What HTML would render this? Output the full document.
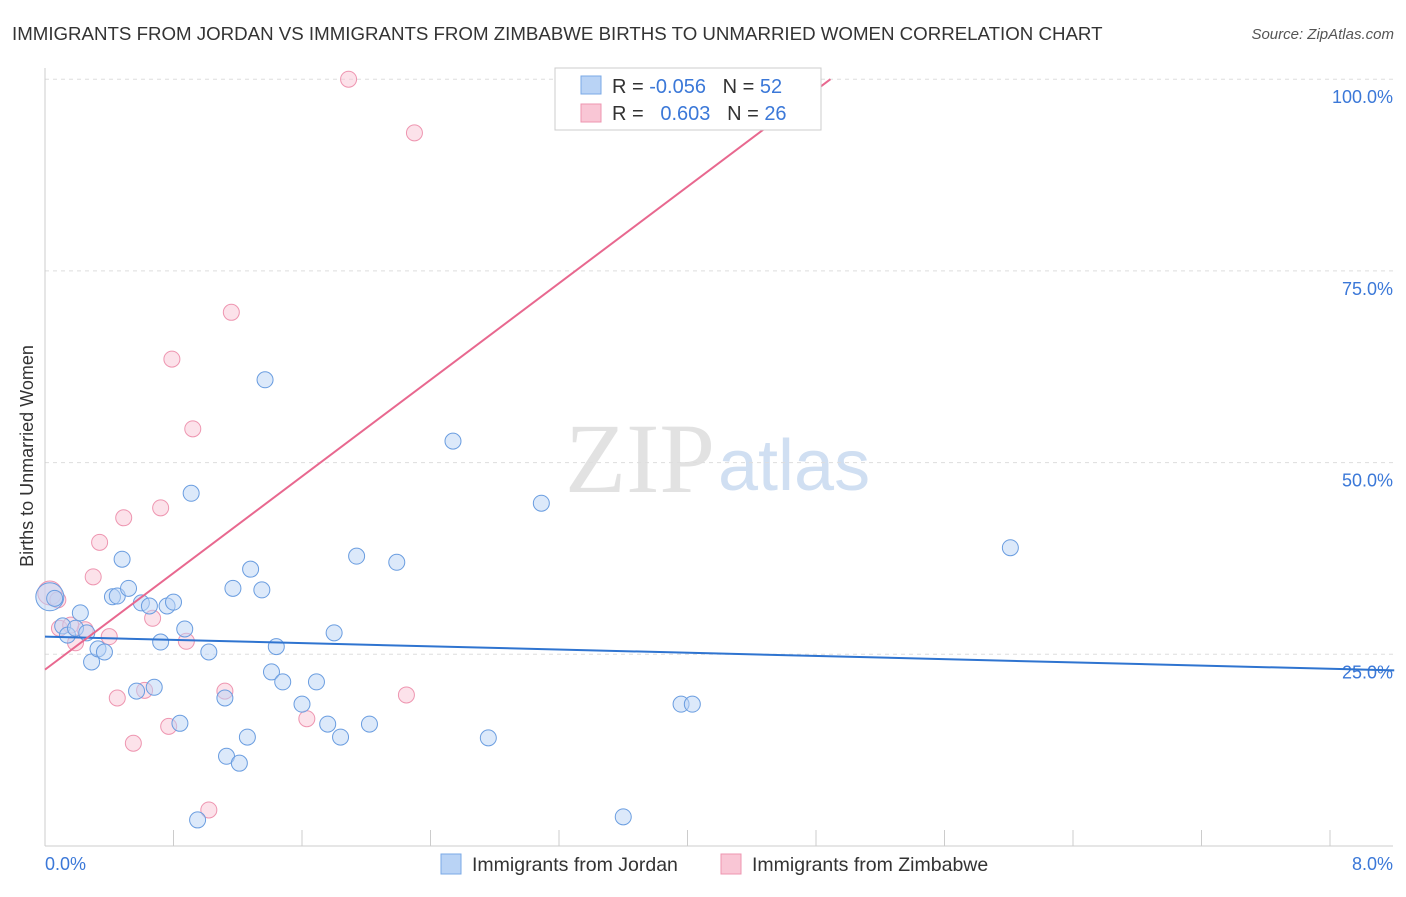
<!DOCTYPE html>
<html><head><meta charset="utf-8"><style>
body{margin:0;background:#fff;font-family:"Liberation Sans",sans-serif;}
svg text{font-family:"Liberation Sans",sans-serif;white-space:pre;}
</style></head><body>
<svg id="chart" width="1406" height="892">
<text x="12" y="40" font-size="18.7" fill="#333">IMMIGRANTS FROM JORDAN VS IMMIGRANTS FROM ZIMBABWE BIRTHS TO UNMARRIED WOMEN CORRELATION CHART</text>
<text x="1394" y="39" font-size="15" fill="#555" font-style="italic" text-anchor="end">Source: ZipAtlas.com</text>
<text x="33" y="456" font-size="18" fill="#333" text-anchor="middle" transform="rotate(-90 33 456)">Births to Unmarried Women</text>
<text x="715" y="492" font-size="100" fill="#e2e2e2" text-anchor="end" font-family="Liberation Serif" style="font-family:'Liberation Serif',serif">ZIP</text>
<text x="718" y="490" font-size="72" fill="#d0dff2">atlas</text>
<g id="grid"></g><g id="pts"></g><g id="lines"></g>
<g>
<rect x="555" y="68" width="266" height="62" fill="#fff" stroke="#ccc"/>
<rect x="581" y="76" width="20" height="18" fill="#b9d3f5" stroke="#7aa8e6"/>
<text x="612" y="93" font-size="20" fill="#333">R = <tspan fill="#3b78d8">-0.056</tspan>   N = <tspan fill="#3b78d8">52</tspan></text>
<rect x="581" y="104" width="20" height="18" fill="#f9c6d5" stroke="#ee95b0"/>
<text x="612" y="120" font-size="20" fill="#333">R =  <tspan fill="#3b78d8"> 0.603</tspan>   N = <tspan fill="#3b78d8">26</tspan></text>
</g>
<g>
<rect x="441" y="854" width="20" height="20" fill="#b9d3f5" stroke="#7aa8e6"/>
<text x="472" y="871" font-size="19.5" fill="#333">Immigrants from Jordan</text>
<rect x="721" y="854" width="20" height="20" fill="#f9c6d5" stroke="#ee95b0"/>
<text x="752" y="871" font-size="19.5" fill="#333">Immigrants from Zimbabwe</text>
</g>
<text x="45" y="870" font-size="18" fill="#3b78d8">0.0%</text>
<text x="1393" y="870" font-size="18" fill="#3b78d8" text-anchor="end">8.0%</text>
</svg>
<script>
const yTicks=[25,50,75,100];
const yTickLabels=["25.0%","50.0%","75.0%","100.0%"];
const jordanX=[0.03,0.06,0.11,0.14,0.19,0.22,0.26,0.29,0.33,0.37,0.42,0.45,0.48,0.52,0.57,0.60,0.65,0.68,0.72,0.76,0.80,0.84,0.87,0.91,0.95,1.02,1.12,1.13,1.17,1.21,1.26,1.28,1.35,1.37,1.41,1.44,1.48,1.60,1.69,1.76,1.80,1.84,1.94,2.02,2.19,2.54,2.76,3.09,3.60,3.96,4.03,6.01];
const jordanY=[32.5,32.3,28.7,27.5,28.4,30.4,27.8,24.0,25.7,25.3,32.5,32.6,37.4,33.6,20.2,31.7,31.3,20.7,26.6,31.3,31.8,16.0,28.3,46.0,3.4,25.3,19.3,11.7,33.6,10.8,14.2,36.1,33.4,60.8,22.7,26.0,21.4,18.5,21.4,15.9,27.8,14.2,37.8,15.9,37.0,52.8,14.1,44.7,3.8,18.5,18.5,38.9];
const zimX=[0.03,0.09,0.19,0.25,0.30,0.34,0.40,0.45,0.49,0.55,0.62,0.67,0.72,0.77,0.79,0.88,0.92,1.02,1.12,1.16,1.63,1.89,2.25,2.30,0.08,0.16];
const zimY=[33.0,28.4,26.5,28.2,35.1,39.6,27.3,19.3,42.8,13.4,20.3,29.7,44.1,15.6,63.5,26.7,54.4,4.7,20.2,69.6,16.6,100,19.7,93.0,32.1,28.8];
const jordanTrend=[27.3,22.9];
const zimTrend=[23.0,100.0];
const xs=v=>45+v/8*1285, ys=v=>846-v*7.668;
const NS="http://www.w3.org/2000/svg";
function mk(t,a,p){const e=document.createElementNS(NS,t);for(const k in a)e.setAttribute(k,a[k]);p.appendChild(e);return e;}
const grid=document.getElementById('grid');
yTicks.forEach((t,i)=>{
 const l=mk('line',{x1:45,x2:1393,y1:ys(t),y2:ys(t),stroke:'#ddd','stroke-dasharray':'4,4'},grid);
 
 
 const tx=mk('text',{x:1393,y:ys(t)+24,'font-size':18,fill:'#3b78d8','text-anchor':'end'},grid);
 tx.textContent=yTickLabels[i];
 
 
});
mk('line',{x1:45,x2:45,y1:68,y2:846,stroke:'#ccc'},grid);
mk('line',{x1:45,x2:1393,y1:846,y2:846,stroke:'#ccc'},grid);
for(let i=0;i<=10;i++){const t=mk('line',{x1:xs(i*0.8),x2:xs(i*0.8),y1:830,y2:846,stroke:'#ccc'},grid);
 
 }
const pts=document.getElementById('pts');
zimX.forEach((x,i)=>{const c=mk('circle',{cx:xs(x),cy:ys(zimY[i]),r:i==0?12:8,fill:'rgba(249,198,213,0.5)',stroke:'#ee95b0','stroke-width':1},pts);
 
 });
jordanX.forEach((x,i)=>{const c=mk('circle',{cx:xs(x),cy:ys(jordanY[i]),r:i==0?14:8,fill:'rgba(185,211,245,0.5)',stroke:'#6a9de0','stroke-width':1},pts);
 
 });
const lines=document.getElementById('lines');
const lj=mk('line',{x1:xs(0),y1:ys(jordanTrend[0]),x2:xs(8.4),y2:ys(jordanTrend[1]),stroke:'#2f74d0','stroke-width':2},lines);


const lz=mk('line',{x1:xs(0),y1:ys(zimTrend[0]),x2:xs(4.89),y2:ys(zimTrend[1]),stroke:'#e8688f','stroke-width':2},lines);


</script>
</body></html>
